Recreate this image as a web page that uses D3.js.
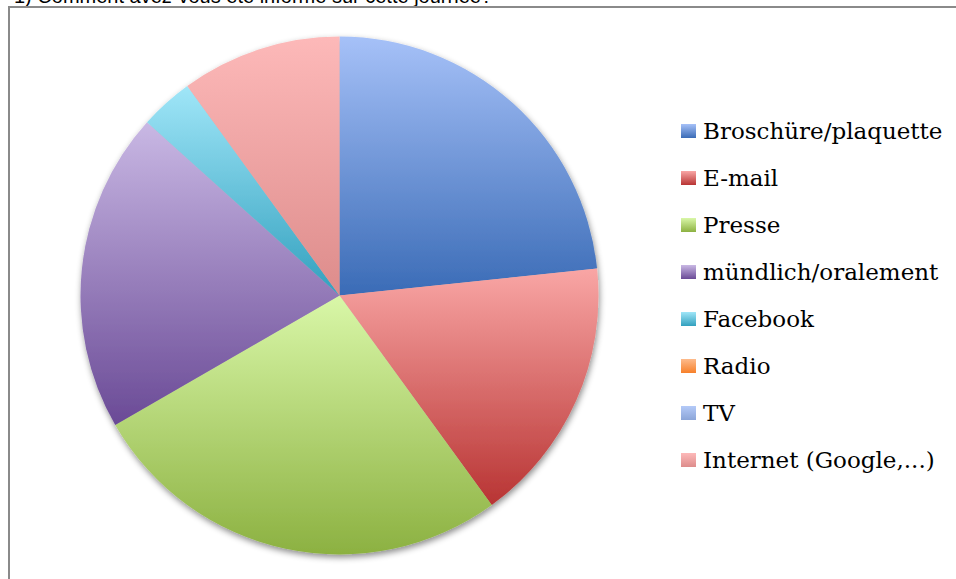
<!DOCTYPE html>
<html>
<head>
<meta charset="utf-8">
<script src="https://cdn.jsdelivr.net/npm/d3@7"></script>
<style>
  html, body { margin: 0; padding: 0; background: #fff; overflow: hidden; }
  svg { display: block; }
</style>
</head>
<body>
<svg id="chart" width="956" height="579"></svg>
<script>
const titleText = "1) Comment avez-vous été informé sur cette journée?";
const categories = ["Broschüre/plaquette", "E-mail", "Presse", "mündlich/oralement", "Facebook", "Radio", "TV", "Internet (Google,...)"];
const values = [7, 5, 8, 6, 1, 0, 0, 3];
const colorsTop = ["#a6c1f8", "#f9a6a5", "#d9f7a8", "#c9b8e4", "#a0e6f8", "#fdbb8c", "#b4caf8", "#fdb9b9"];
const colorsBottom = ["#3a6bb6", "#b83433", "#8cb141", "#6a4a96", "#32a0be", "#f7802a", "#8ba5d8", "#dd8c8b"];

const svg = d3.select("#chart");
const defs = svg.append("defs");

categories.forEach((c, i) => {
  const g = defs.append("linearGradient")
    .attr("id", "grad" + i)
    .attr("x1", 0).attr("y1", 0).attr("x2", 0).attr("y2", 1);
  g.append("stop").attr("offset", "0%").attr("stop-color", colorsTop[i]);
  g.append("stop").attr("offset", "100%").attr("stop-color", colorsBottom[i]);
});

const filter = defs.append("filter").attr("id", "shadow")
  .attr("x", "-10%").attr("y", "-10%").attr("width", "120%").attr("height", "120%");
filter.append("feDropShadow")
  .attr("dx", 1).attr("dy", 3).attr("stdDeviation", 3)
  .attr("flood-color", "#000").attr("flood-opacity", 0.45);

// title (partly cut off at top, as in the reference)
svg.append("text")
  .attr("x", 14).attr("y", 3)
  .attr("font-family", "Liberation Sans, Arial, sans-serif")
  .attr("font-size", 20)
  .attr("fill", "#000")
  .text(titleText);

// frame
svg.append("path")
  .attr("d", "M9,590 L9,7 L970,7")
  .attr("fill", "none")
  .attr("stroke", "#8a8a8a")
  .attr("stroke-width", 2);

const cx = 339.5, cy = 295.5, r = 259;
const pie = d3.pie().sort(null).value(d => d.v);
const arc = d3.arc().innerRadius(0).outerRadius(r);
const data = categories.map((c, i) => ({ c, v: values[i], i }));

const pg = svg.append("g").attr("transform", `translate(${cx},${cy})`).attr("filter", "url(#shadow)");
pg.selectAll("path")
  .data(pie(data).filter(d => d.data.v > 0))
  .join("path")
  .attr("d", arc)
  .attr("fill", d => `url(#grad${d.data.i})`);

// legend
const lg = svg.append("g");
const rowY = d3.scaleLinear().domain([0, 1]).range([139, 186]);
categories.forEach((c, i) => {
  const y = rowY(i);
  lg.append("rect")
    .attr("x", 681).attr("y", y - 15)
    .attr("width", 15).attr("height", 14)
    .attr("fill", `url(#grad${i})`);
  lg.append("text")
    .attr("x", 703).attr("y", y)
    .attr("font-family", "DejaVu Serif, serif")
    .attr("font-size", 23)
    .attr("fill", "#000")
    .text(c);
});
</script>
</body>
</html>
